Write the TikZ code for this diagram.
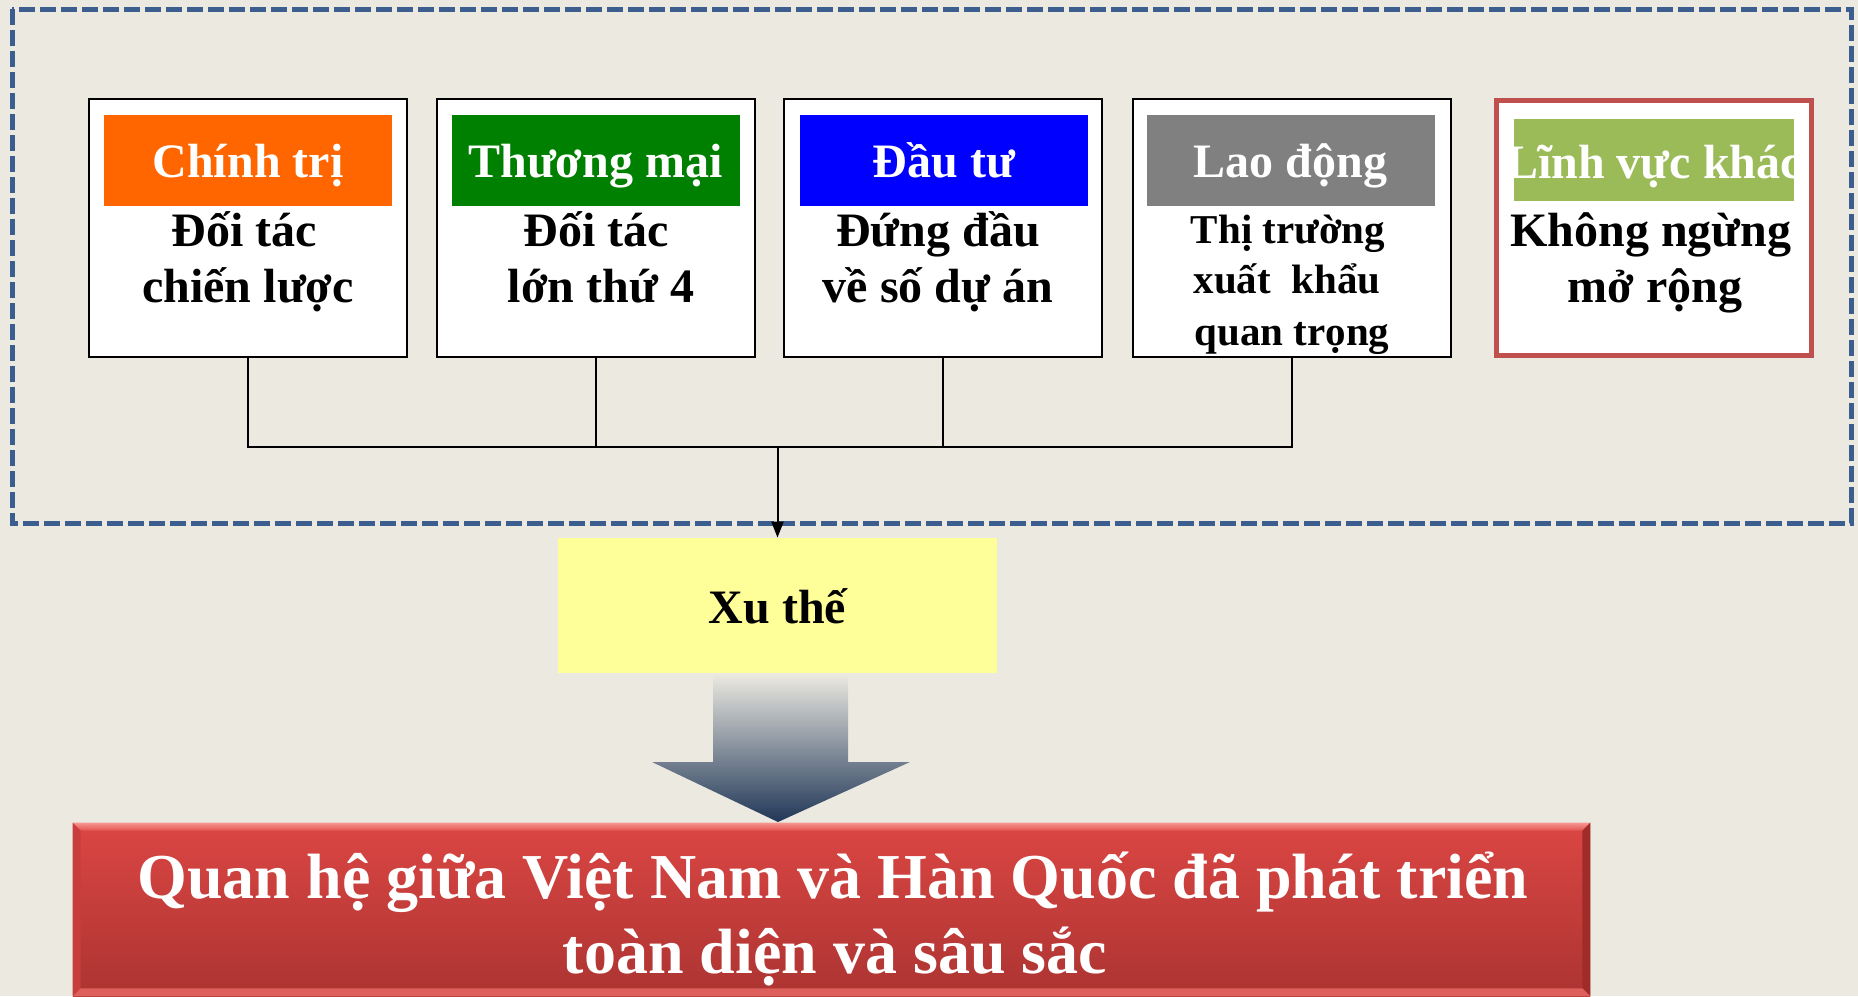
\documentclass[tikz,border=0pt]{standalone}
\usepackage{fontspec}
\setmainfont{Liberation Serif}
\usetikzlibrary{arrows.meta,calc}
\definecolor{bg}{RGB}{236,234,224}
\definecolor{dashblue}{RGB}{59,94,142}
\definecolor{hOrange}{RGB}{255,102,0}
\definecolor{hGreen}{RGB}{0,128,0}
\definecolor{hBlue}{RGB}{0,0,255}
\definecolor{hGray}{RGB}{128,128,128}
\definecolor{hLime}{RGB}{155,187,89}
\definecolor{boxRed}{RGB}{192,80,77}
\definecolor{xuYellow}{RGB}{255,255,153}
\definecolor{redTop}{RGB}{219,70,67}
\definecolor{redBot}{RGB}{172,52,50}
\definecolor{bevTopA}{RGB}{246,150,145}
\definecolor{bevTopB}{RGB}{226,84,80}
\definecolor{bevLeft}{RGB}{200,62,60}
\definecolor{bevRight}{RGB}{160,44,42}
\definecolor{bevBot}{RGB}{222,96,92}
\definecolor{arrTop}{RGB}{234,232,224}
\definecolor{arrMid}{RGB}{150,158,167}
\definecolor{arrBot}{RGB}{33,55,88}
\begin{document}
\begin{tikzpicture}[x=0.5pt,y=-0.5pt,
  card/.style={draw=black, line width=1pt, fill=white, minimum width=159pt, minimum height=129pt, inner sep=0pt},
  hdr/.style={minimum width=144pt, minimum height=45.5pt, inner sep=0pt, text=white,
    font=\bfseries\fontsize{24}{28}\selectfont, text height=31pt, text depth=14.5pt},
  hdrtext/.style={inner sep=0pt, text=white, font=\bfseries\fontsize{24}{28}\selectfont},
  body/.style={inner sep=0pt, anchor=base, font=\bfseries\fontsize{24}{28}\selectfont},
  bodysmall/.style={inner sep=0pt, anchor=base, font=\bfseries\fontsize{20.5}{25}\selectfont},
  big/.style={inner sep=0pt, anchor=base, text=white, font=\bfseries\fontsize{32}{37.5}\selectfont},
  conn/.style={draw=black, line width=1pt}
]
\fill[bg] (0,0) rectangle (1858,996);
\useasboundingbox (0,0) rectangle (1858,996);

% dashed frame
\draw[dashblue, line width=2.5pt, dash pattern=on 8pt off 2.5pt] (12,9) rectangle (1851,523);

% cards
\node[card] (b1) at (248,228) {};
\node[card] (b2) at (595.5,228) {};
\node[card] (b3) at (943,228) {};
\node[card] (b4) at (1291.5,228) {};
\node[card, draw=boxRed, line width=2.5pt, minimum width=157.5pt, minimum height=127.5pt] (b5) at (1654,228) {};

% headers
\node[hdr, fill=hOrange] (h1) at (248,160.5) {Chính trị};
\node[hdr, fill=hGreen] (h2) at (595.5,160.5) {Thương mại};
\node[hdr, fill=hBlue] (h3) at (944,160.5) {Đầu tư};
\node[hdr, fill=hGray] (h4) at (1290.5,160.5) {Lao động};
\node[fill=hLime, minimum width=140pt, minimum height=41pt, inner sep=0pt] (h5) at (1654,160) {};
\begin{scope}
\clip (h5.south west) rectangle (h5.north east);
\node[hdrtext, anchor=base] (h5t) at (1654,178) {Lĩnh vực khác};
\end{scope}

% body texts
\node[body] (t1a) at (244,246) {Đối tác};
\node[body] (t1b) at (248,302) {chiến lược};
\node[body] (t2a) at (596,246) {Đối tác};
\node[body] (t2b) at (601,302) {lớn thứ 4};
\node[body] (t3a) at (938,246) {Đứng đầu};
\node[body] (t3b) at (938,302) {về số dự án};
\node[bodysmall] (t4a) at (1288,243) {Thị trường};
\node[bodysmall] (t4b) at (1287,293) {xuất\ \ khẩu};
\node[bodysmall] (t4c) at (1292,345) {quan trọng};
\node[body] (t5a) at (1651,246) {Không ngừng};
\node[body] (t5b) at (1655,302) {mở rộng};

% connectors
\coordinate (j) at (777.5,447);
\draw[conn] (b1.south) |- (b4.south |- j) -- (b4.south);
\draw[conn] (b2.south) -- (b2.south |- j);
\draw[conn] (b3.south) -- (b3.south |- j);

% Xu the
\node[fill=xuYellow, minimum width=219.5pt, minimum height=67.5pt, inner sep=0pt,
  font=\bfseries\fontsize{24}{28}\selectfont, text height=17.5pt, text depth=0pt] (xu) at (777.5,605.5) {Xu thế};
\draw[conn, -{Triangle[length=8pt,width=6pt]}] (j) -- (xu.north);

% big gradient arrow
\shade[top color=arrTop, middle color=arrMid, bottom color=arrBot]
  (713,675) -- (848,675) -- (848,762) -- (910,762) -- (778,822) -- (652,762) -- (713,762) -- cycle;

% result box
\node[minimum width=758.5pt, minimum height=86.5pt, inner sep=0pt, top color=redTop, bottom color=redBot] (res) at (831.5,909.5) {};
\shade[top color=bevTopA, bottom color=bevTopB] (res.north west) -- (res.north east) -- ($(res.north east)+(-8,8)$) -- ($(res.north west)+(8,8)$) -- cycle;
\fill[bevLeft] (res.north west) -- ($(res.north west)+(8,8)$) -- ($(res.south west)+(8,-8)$) -- (res.south west) -- cycle;
\fill[bevRight] (res.north east) -- ($(res.north east)+(-8,8)$) -- ($(res.south east)+(-8,-8)$) -- (res.south east) -- cycle;
\fill[bevBot] (res.south west) -- ($(res.south west)+(8,-8)$) -- ($(res.south east)+(-8,-8)$) -- (res.south east) -- cycle;
\node[big] (r1) at (833,898) {Quan hệ giữa Việt Nam và Hàn Quốc đã phát triển};
\node[big] (r2) at (835,973) {toàn diện và sâu sắc};
\end{tikzpicture}
\end{document}
